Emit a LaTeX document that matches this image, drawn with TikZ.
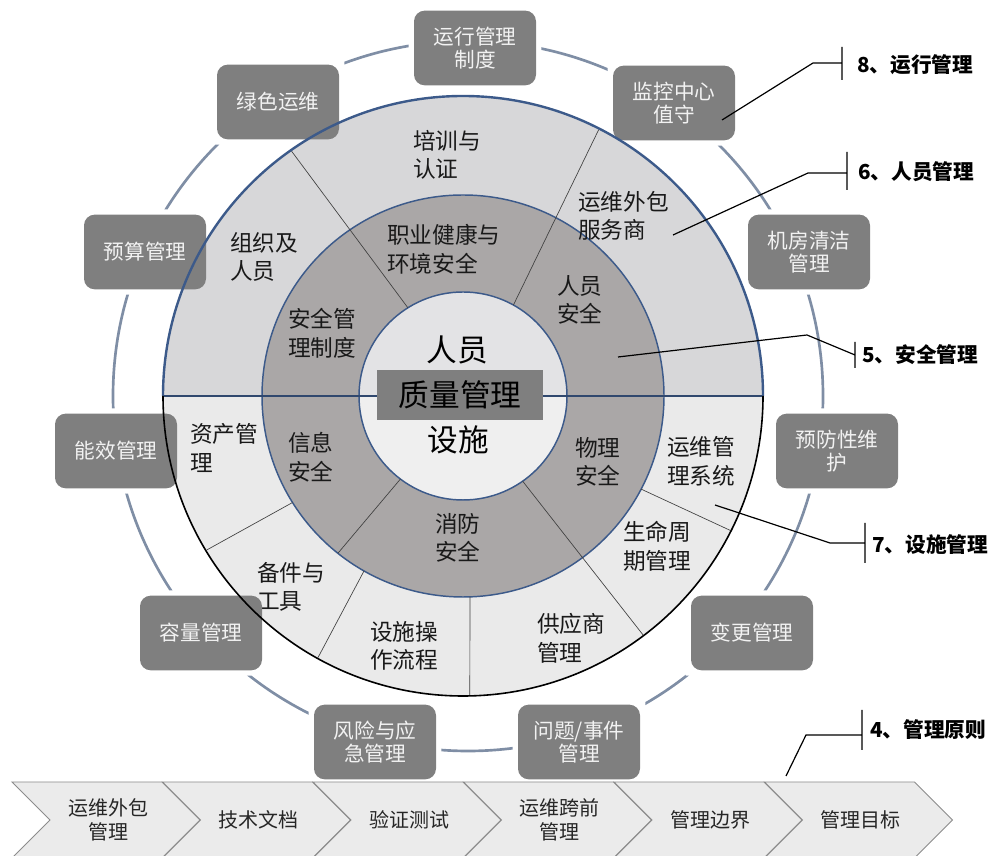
\documentclass[tikz,border=0pt]{standalone}
\usepackage{fontspec}
\setmainfont{Noto Sans CJK SC}
\usetikzlibrary{calc}
\pgfdeclarelayer{background}
\pgfsetlayers{background,main}
\definecolor{boxgray}{HTML}{7F7F7F}
\definecolor{ringblue}{HTML}{7F8EA5}
\definecolor{edgeblue}{HTML}{3C5A8A}
\definecolor{outtop}{HTML}{D7D7D9}
\definecolor{outbot}{HTML}{EAEAEA}
\definecolor{midring}{HTML}{AAA7A7}
\definecolor{intop}{HTML}{E3E3E5}
\definecolor{inbot}{HTML}{EFEFEF}
\definecolor{chevfill}{HTML}{EBEBEB}
\definecolor{chevedge}{HTML}{8C8C8C}

\begin{document}
\begin{tikzpicture}[x=0.75pt,y=0.75pt,
  mgmt/.style={fill=boxgray, rounded corners=8pt,
    minimum width=91.5pt, minimum height=56pt, align=center, text=white!95!black,
    font=\fontsize{15.5}{17.5}\selectfont, inner sep=1pt},
  sector/.style={anchor=west, align=left, inner sep=0pt, text=black!90,
    font=\fontsize{17}{21.5}\selectfont},
  core/.style={inner sep=0pt, font=\fontsize{23}{26}\selectfont},
  divider/.style={black!75, line width=0.5pt},
  leader/.style={black, line width=0.9pt},
  lab/.style={anchor=west, inner sep=0pt, font=\bfseries\fontsize{15.5}{18}\selectfont},
  chev/.style={fill=chevfill, draw=chevedge, line width=0.7pt},
  chevtext/.style={align=center, font=\fontsize{15}{18}\selectfont, text=black!85}]
  \useasboundingbox (0,0) rectangle (1006,856);
  \coordinate (C) at (463,460);
  \coordinate (R) at (468,460);

  % disc
  \fill[outtop] ($(C)+(300,0)$) arc[start angle=0, end angle=180, radius=300] -- cycle;
  \fill[outbot] ($(C)+(-300,0)$) arc[start angle=180, end angle=360, radius=300] -- cycle;
  \fill[midring] (C) circle[radius=201];
  \fill[intop] ($(C)+(104,0)$) arc[start angle=0, end angle=180, radius=104] -- cycle;
  \fill[inbot] ($(C)+(-104,0)$) arc[start angle=180, end angle=360, radius=104] -- cycle;
  \draw[edgeblue, line width=1.1pt] (C) circle[radius=201] (C) circle[radius=104];
  \draw[edgeblue!80!black, line width=1.3pt] ($(C)+(-300,0)$) -- ($(C)+(300,0)$);

  \draw[divider] ($(C)+(122:104)$) -- ($(C)+(125:299)$);
  \draw[divider] ($(C)+(61:104)$) -- ($(C)+(63:299)$);
  \draw[divider] ($(C)+(233:104)$) -- ($(C)+(231.5:201)$);
  \draw[divider] ($(C)+(305:104)$) -- ($(C)+(307:299)$);
  \foreach \a/\b in {212/211, 240.5/241, 272/271.3, 332.4/333.3}
    \draw[divider] ($(C)+(\a:201)$) -- ($(C)+(\b:299)$);

  \node[sector] (pxrz) at (413,701) {培训与\\认证};
  \node[sector] (zzry) at (230,599) {组织及\\人员};
  \node[sector] (wbfw) at (578,640) {运维外包\\服务商};
  \node[sector] (zyjk) at (387,607) {职业健康与\\环境安全};
  \node[sector] (aqzd) at (288,523) {安全管\\理制度};
  \node[sector, align=center] (ryaq) at (557,556) {人员\\安全};
  \node[sector] (zcgl) at (190,408) {资产管\\理};
  \node[sector] (xxaq) at (288,399) {信息\\安全};
  \node[sector] (xfaq) at (435,318) {消防\\安全};
  \node[sector] (bjgj) at (257,269) {备件与\\工具};
  \node[sector] (sslc) at (370,210) {设施操\\作流程};
  \node[sector] (wlaq) at (575,394) {物理\\安全};
  \node[sector] (ywxt) at (667,395) {运维管\\理系统};
  \node[sector] (smzq) at (623,310) {生命周\\期管理};
  \node[sector] (gysg) at (537,218) {供应商\\管理};

  \node[core] (ry) at (457,506) {人员};
  \node[core, fill=boxgray, minimum width=124.5pt, minimum height=37.5pt] (zlgl) at (460,461) {质量管理};
  \node[core] (ss) at (458,416) {设施};

  \node[mgmt] (yxzd) at (475,808) {运行管理\\制度};
  \node[mgmt] (jkzx) at (674,753) {监控中心\\值守};
  \node[mgmt] (jfqj) at (809,604) {机房清洁\\管理};
  \node[mgmt] (yfwh) at (837,405) {预防性维\\护};
  \node[mgmt] (bggl) at (752,223) {变更管理};
  \node[mgmt] (wtsj) at (579,114) {问题/事件\\管理};
  \node[mgmt] (fxyj) at (375,114) {风险与应\\急管理};
  \node[mgmt] (rlgl) at (201,223) {容量管理};
  \node[mgmt] (nxgl) at (116,405) {能效管理};
  \node[mgmt] (ysgl) at (145,604) {预算管理};
  \node[mgmt] (lsyw) at (278,754) {绿色运维};

  \begin{pgfonlayer}{background}
    \begin{scope}[even odd rule]
      \clip (0,0) rectangle (1006,856)
        \foreach \n in {yxzd,jkzx,jfqj,yfwh,bggl,wtsj,fxyj,rlgl,nxgl,ysgl,lsyw}{
          ($(\n.south west)+(-5,-5)$) rectangle ($(\n.north east)+(5,5)$)};
      \draw[ringblue, line width=2pt] (R) circle[radius=355];
    \end{scope}
  \end{pgfonlayer}

  \draw[edgeblue, line width=1.8pt] ($(C)+(300,0)$) arc[start angle=0, end angle=180, radius=300];
  \draw[black, line width=1.2pt] ($(C)+(-300,0)$) arc[start angle=180, end angle=360, radius=300];

  \foreach \t [count=\i] in {{运维外包\\管理},技术文档,验证测试,{运维跨前\\管理},管理边界,管理目标}{
    \pgfmathsetmacro\a{12+150.5*(\i-1)}
    \draw[chev] (\a,74) -- ++(150,0) -- ++(38,-38) -- ++(-38,-38) -- ++(-150,0) -- ++(38,38) -- cycle;
    \node[chevtext] (chev\i) at (\a+96,36) {\t};
  }

  \coordinate (p8) at (722,736); \coordinate (b8) at (813,793); \coordinate (t8) at (842,793);
  \draw[leader] (p8) -- (b8) -- (t8) ($(t8)+(0,16)$) -- ($(t8)+(0,-17)$);
  \node[lab] (l8) at (857,791) {8、运行管理};

  \coordinate (p6) at (673,621); \coordinate (b6) at (808,683); \coordinate (t6) at (847,683);
  \draw[leader] (p6) -- (b6) -- (t6) ($(t6)+(0,21)$) -- ($(t6)+(0,-17)$);
  \node[lab] (l6) at (858,684) {6、人员管理};

  \coordinate (p5) at (618,499); \coordinate (b5) at (807,521); \coordinate (t5) at (855,501);
  \draw[leader] (p5) -- (b5) -- (t5) ($(t5)+(0,13)$) -- ($(t5)+(0,-13)$);
  \node[lab] (l5) at (862,501) {5、安全管理};

  \coordinate (p7) at (715,351); \coordinate (b7) at (830,313); \coordinate (t7) at (865,313);
  \draw[leader] (p7) -- (b7) -- (t7) ($(t7)+(0,20)$) -- ($(t7)+(0,-20)$);
  \node[lab] (l7) at (872,311) {7、设施管理};

  \coordinate (p4) at (786,80); \coordinate (b4) at (806,121); \coordinate (t4) at (862,121);
  \draw[leader] (p4) -- (b4) -- (t4) ($(t4)+(0,25)$) -- ($(t4)+(0,-15)$);
  \node[lab] (l4) at (870,126) {4、管理原则};
\end{tikzpicture}
\end{document}
